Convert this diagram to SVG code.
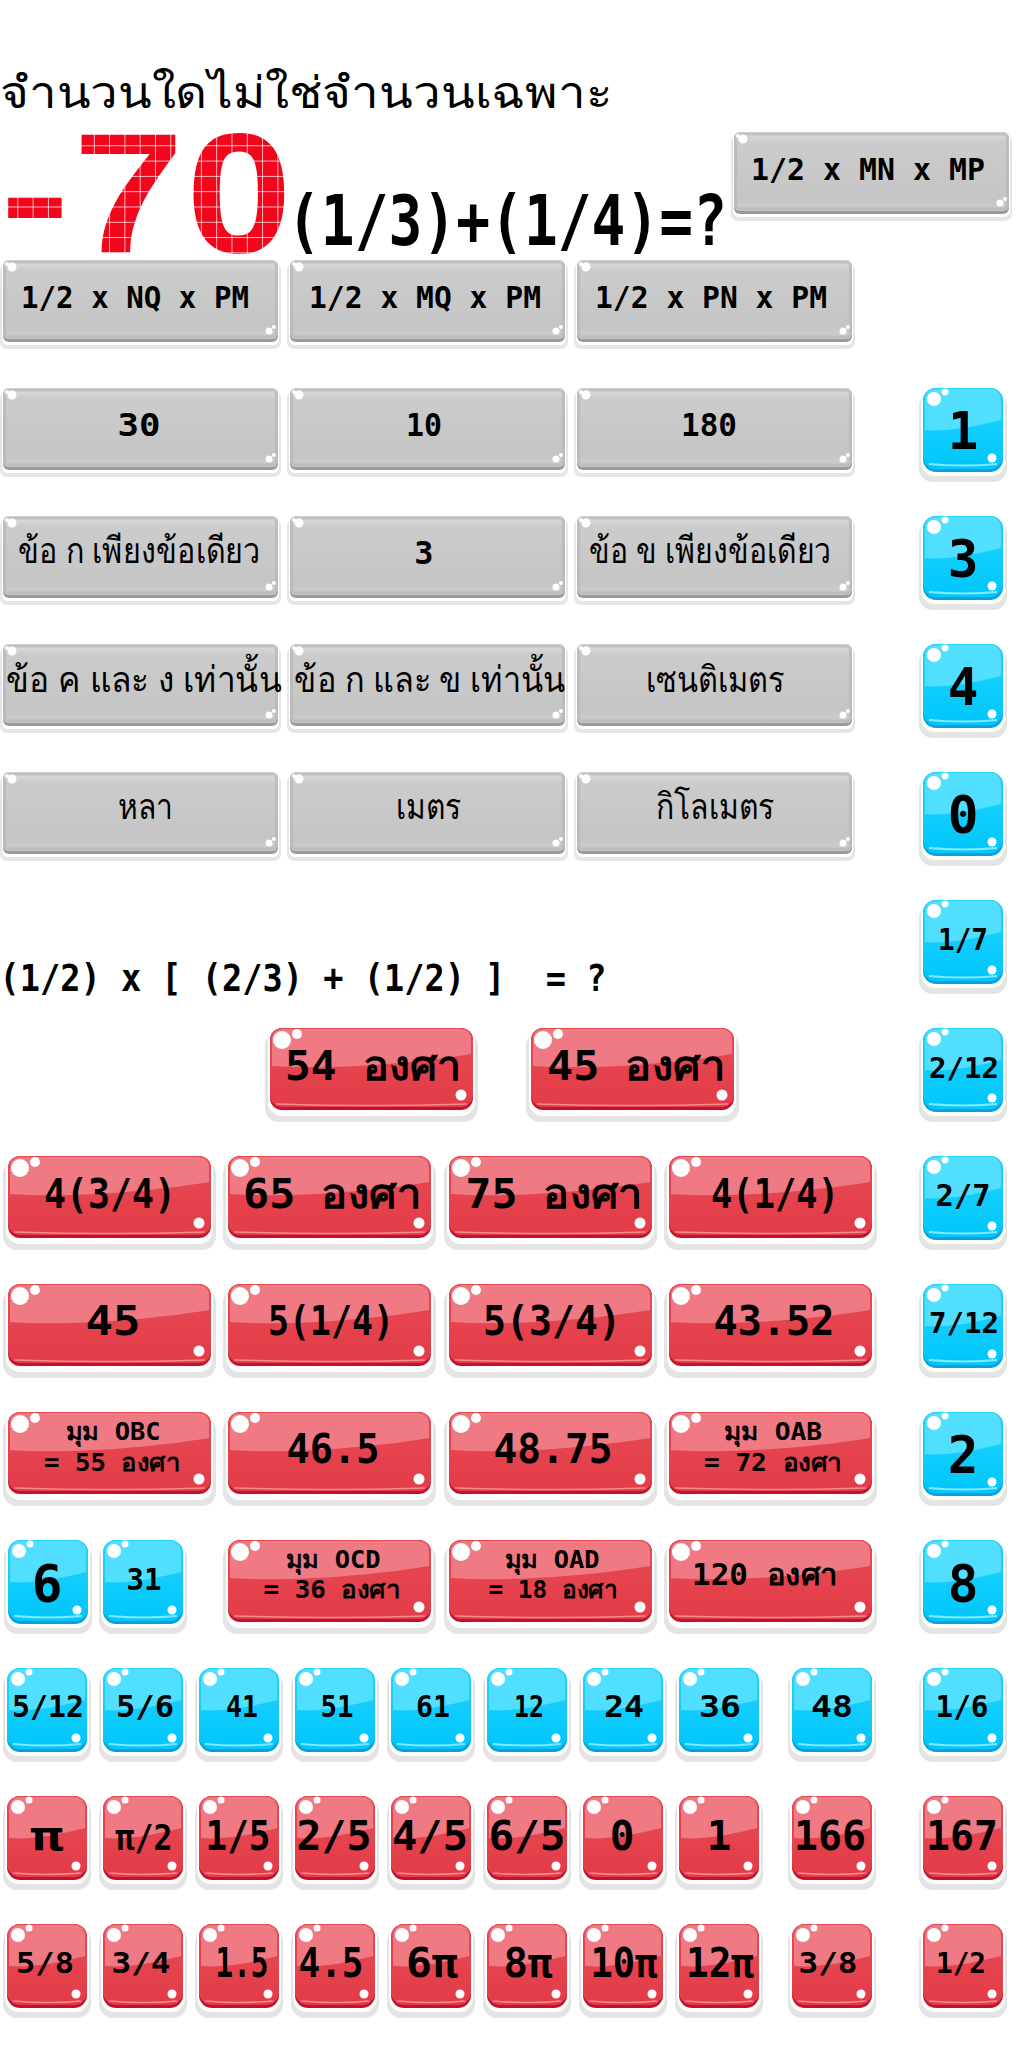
<svg xmlns="http://www.w3.org/2000/svg" xmlns:xlink="http://www.w3.org/1999/xlink" width="1024" height="2048" viewBox="0 0 1024 2048">
<style>
.t{font-family:"DejaVu Sans Mono","Noto Sans","DejaVu Sans",sans-serif;font-weight:bold;fill:#000;text-anchor:middle}
.th{font-family:"Noto Sans","DejaVu Sans","Noto Sans CJK SC",sans-serif;fill:#000;text-anchor:middle}
.px{font-family:"Liberation Sans",sans-serif;font-weight:bold;font-size:170px;fill:url(#pix)}
.big{font-size:51px}
.m{font-size:30px}
.l{font-size:41px}
.s{font-size:29px}
.xs{font-size:24px}
</style>
<defs>
<linearGradient id="gGray" x1="0" y1="0" x2="0" y2="1">
<stop offset="0" stop-color="#e0e0e0"/>
<stop offset="0.12" stop-color="#cccccc"/>
<stop offset="0.85" stop-color="#c5c5c5"/>
<stop offset="1" stop-color="#d0d0d0"/>
</linearGradient>
<linearGradient id="gBlue" x1="0" y1="0" x2="0" y2="1">
<stop offset="0" stop-color="#22d4ff"/>
<stop offset="1" stop-color="#00c6fb"/>
</linearGradient>
<linearGradient id="gRed" x1="0" y1="0" x2="0" y2="1">
<stop offset="0" stop-color="#e84a54"/>
<stop offset="1" stop-color="#e23c47"/>
</linearGradient>
<pattern id="pix" patternUnits="userSpaceOnUse" x="2" y="130" width="15.3" height="15.3">
<rect width="15.3" height="15.3" fill="#f2061b"/>
<path d="M0,0 H15.3 M0,0 V15.3" stroke="#fff" stroke-width="1.4"/>
</pattern>
<g id="gray">
<rect x="-3" y="3" width="281" height="86" rx="7" fill="#e6e6e6"/>
<rect x="-1" y="1" width="277" height="84" rx="6" fill="#fff"/>
<rect x="0" y="0" width="275" height="82" rx="6" fill="#9a9a9a"/>
<rect x="0" y="0" width="275" height="79" rx="6" fill="url(#gGray)"/>
<rect x="1.5" y="2" width="272" height="75" rx="5" fill="none" stroke="#b3b3b3" stroke-opacity="0.6" stroke-width="3"/>
<circle cx="9" cy="7" r="4.5" fill="#fff"/>
<circle cx="4" cy="4" r="2" fill="#fff"/>
<circle cx="266" cy="71" r="3.5" fill="#fff"/>
<circle cx="271" cy="67" r="2" fill="#fff"/>
</g>
<g id="blue">
<rect x="-4" y="4" width="88" height="90" rx="14" fill="#e4e4e4"/>
<rect x="-2" y="-1" width="84" height="89" rx="14" fill="#fff"/>
<rect x="0" y="0" width="80" height="84" rx="13" fill="#0a9fd6"/>
<rect x="0" y="0" width="80" height="81" rx="13" fill="url(#gBlue)"/>
<path d="M2,42 C25,44 55,38 78,32 L78,13 Q78,1 66,1 L14,1 Q2,1 2,13 Z" fill="#52defe"/>
<path d="M6,76 Q40,79 74,76" fill="none" stroke="#7fe9ff" stroke-width="2"/>
<circle cx="11" cy="11" r="7" fill="#fff"/>
<circle cx="22" cy="4" r="3.5" fill="#fff"/>
<circle cx="69" cy="70" r="4.5" fill="#fff"/>
</g>
<g id="redS">
<rect x="-4" y="4" width="88" height="90" rx="14" fill="#e4e4e4"/>
<rect x="-2" y="-1" width="84" height="89" rx="14" fill="#fff"/>
<rect x="0" y="0" width="80" height="84" rx="13" fill="#c5122a"/>
<rect x="0" y="0" width="80" height="81" rx="13" fill="url(#gRed)"/>
<path d="M2,42 C25,44 55,38 78,32 L78,13 Q78,1 66,1 L14,1 Q2,1 2,13 Z" fill="#ef7a83"/>
<path d="M6,77 Q40,80 74,77" fill="none" stroke="#f48a92" stroke-width="1.5"/>
<circle cx="11" cy="11" r="7" fill="#fff"/>
<circle cx="22" cy="4" r="3.5" fill="#fff"/>
<circle cx="69" cy="70" r="4.5" fill="#fff"/>
</g>
<g id="redW">
<rect x="-5" y="4" width="213" height="90" rx="14" fill="#e4e4e4"/>
<rect x="-2" y="-1" width="207" height="89" rx="14" fill="#fff"/>
<rect x="0" y="0" width="203" height="82" rx="12" fill="#c5122a"/>
<rect x="0" y="0" width="203" height="79" rx="12" fill="url(#gRed)"/>
<path d="M2,38 C60,42 140,36 201,26 L201,12 Q201,1 189,1 L14,1 Q2,1 2,12 Z" fill="#ef7a83"/>
<path d="M6,76 Q100,79 197,76" fill="none" stroke="#f48a92" stroke-width="1.5"/>
<circle cx="12" cy="12" r="9" fill="#fff"/>
<circle cx="27" cy="6" r="5" fill="#fff"/>
<circle cx="191" cy="67" r="5.5" fill="#fff"/>
</g>
</defs>
<rect width="1024" height="2048" fill="#fff"/>

<g id="connectors"/>

<g id="title">
<text class="th" x="306" y="108" font-size="44" textLength="613" lengthAdjust="spacingAndGlyphs">จำนวนใดไม่ใช่จำนวนเฉพาะ</text>
</g>
<g id="minus70">
<text class="px" x="0" y="252" textLength="70" lengthAdjust="spacingAndGlyphs">-</text>
<text class="px" x="73" y="252" textLength="111" lengthAdjust="spacingAndGlyphs">7</text>
<text class="px" x="186" y="252" textLength="106" lengthAdjust="spacingAndGlyphs">0</text>
</g>
<g id="eq1">
<text class="t" x="507" y="245" font-size="70" textLength="440" lengthAdjust="spacingAndGlyphs">(1/3)+(1/4)=?</text>
</g>
<g id="eq2">
<text class="t" x="303" y="991" font-size="37" textLength="607" lengthAdjust="spacingAndGlyphs" xml:space="preserve">(1/2) x [ (2/3) + (1/2) ]  = ?</text>
</g>

<g id="g-mnmp"><use href="#gray" x="734" y="132"/><text class="t m" x="868" y="180" textLength="234" lengthAdjust="spacingAndGlyphs">1/2 x MN x MP</text></g>
<g id="g-nq"><use href="#gray" x="3" y="260"/><text class="t m" x="135" y="308" textLength="228" lengthAdjust="spacingAndGlyphs">1/2 x NQ x PM</text></g>
<g id="g-mq"><use href="#gray" x="290" y="260"/><text class="t m" x="425" y="308" textLength="232" lengthAdjust="spacingAndGlyphs">1/2 x MQ x PM</text></g>
<g id="g-pn"><use href="#gray" x="577" y="260"/><text class="t m" x="711" y="308" textLength="232" lengthAdjust="spacingAndGlyphs">1/2 x PN x PM</text></g>

<g id="g-30"><use href="#gray" x="3" y="388"/><text class="t" font-size="32" x="139" y="436" textLength="43" lengthAdjust="spacingAndGlyphs">30</text></g>
<g id="g-10"><use href="#gray" x="290" y="388"/><text class="t" font-size="32" x="424" y="436" textLength="36" lengthAdjust="spacingAndGlyphs">10</text></g>
<g id="g-180"><use href="#gray" x="577" y="388"/><text class="t" font-size="32" x="709" y="436" textLength="56" lengthAdjust="spacingAndGlyphs">180</text></g>

<g id="g-k1"><use href="#gray" x="3" y="516"/><text class="th" font-size="36" x="139" y="563" textLength="242" lengthAdjust="spacingAndGlyphs">ข้อ ก เพียงข้อเดียว</text></g>
<g id="g-3"><use href="#gray" x="290" y="516"/><text class="t" font-size="32" x="424" y="564">3</text></g>
<g id="g-k2"><use href="#gray" x="577" y="516"/><text class="th" font-size="36" x="710" y="563" textLength="242" lengthAdjust="spacingAndGlyphs">ข้อ ข เพียงข้อเดียว</text></g>

<g id="g-k3"><use href="#gray" x="3" y="644"/><text class="th" font-size="36" x="144" y="692" textLength="276" lengthAdjust="spacingAndGlyphs">ข้อ ค และ ง เท่านั้น</text></g>
<g id="g-k4"><use href="#gray" x="290" y="644"/><text class="th" font-size="36" x="430" y="692" textLength="272" lengthAdjust="spacingAndGlyphs">ข้อ ก และ ข เท่านั้น</text></g>
<g id="g-cm"><use href="#gray" x="577" y="644"/><text class="th" font-size="36" x="715" y="692" textLength="138" lengthAdjust="spacingAndGlyphs">เซนติเมตร</text></g>

<g id="g-yd"><use href="#gray" x="3" y="772"/><text class="th" font-size="36" x="145" y="819" textLength="55" lengthAdjust="spacingAndGlyphs">หลา</text></g>
<g id="g-m"><use href="#gray" x="290" y="772"/><text class="th" font-size="36" x="428" y="819" textLength="65" lengthAdjust="spacingAndGlyphs">เมตร</text></g>
<g id="g-km"><use href="#gray" x="577" y="772"/><text class="th" font-size="36" x="715" y="819" textLength="118" lengthAdjust="spacingAndGlyphs">กิโลเมตร</text></g>

<g id="b-1"><use href="#blue" x="923" y="388"/><text class="t big" x="963" y="449">1</text></g>
<g id="b-3"><use href="#blue" x="923" y="516"/><text class="t big" x="963" y="577">3</text></g>
<g id="b-4"><use href="#blue" x="923" y="644"/><text class="t big" x="963" y="705">4</text></g>
<g id="b-0"><use href="#blue" x="923" y="772"/><text class="t big" x="963" y="833">0</text></g>
<g id="b-1-7"><use href="#blue" x="923" y="900"/><text class="t" font-size="31" x="963" y="950" textLength="50" lengthAdjust="spacingAndGlyphs">1/7</text></g>
<g id="b-2-12"><use href="#blue" x="923" y="1028"/><text class="t s" x="964" y="1078" textLength="70" lengthAdjust="spacingAndGlyphs">2/12</text></g>
<g id="b-2-7"><use href="#blue" x="923" y="1156"/><text class="t" font-size="31" x="963" y="1206" textLength="55" lengthAdjust="spacingAndGlyphs">2/7</text></g>
<g id="b-7-12"><use href="#blue" x="923" y="1284"/><text class="t s" x="964" y="1333" textLength="70" lengthAdjust="spacingAndGlyphs">7/12</text></g>
<g id="b-2"><use href="#blue" x="923" y="1412"/><text class="t big" x="963" y="1473">2</text></g>
<g id="b-8"><use href="#blue" x="923" y="1540"/><text class="t big" x="963" y="1602">8</text></g>

<g id="r-54"><use href="#redW" x="270" y="1028"/><text class="t l" x="373" y="1080" textLength="176" lengthAdjust="spacingAndGlyphs">54 องศา</text></g>
<g id="r-45a"><use href="#redW" x="531" y="1028"/><text class="t l" x="636" y="1080" textLength="178" lengthAdjust="spacingAndGlyphs">45 องศา</text></g>

<g id="r-4-3-4"><use href="#redW" x="8" y="1156"/><text class="t l" x="110" y="1208" textLength="132" lengthAdjust="spacingAndGlyphs">4(3/4)</text></g>
<g id="r-65"><use href="#redW" x="228" y="1156"/><text class="t l" x="332" y="1208" textLength="178" lengthAdjust="spacingAndGlyphs">65 องศา</text></g>
<g id="r-75"><use href="#redW" x="449" y="1156"/><text class="t l" x="554" y="1208" textLength="177" lengthAdjust="spacingAndGlyphs">75 องศา</text></g>
<g id="r-4-1-4"><use href="#redW" x="669" y="1156"/><text class="t l" x="775" y="1208" textLength="128" lengthAdjust="spacingAndGlyphs">4(1/4)</text></g>

<g id="r-45"><use href="#redW" x="8" y="1284"/><text class="t l" x="113" y="1335" textLength="55" lengthAdjust="spacingAndGlyphs">45</text></g>
<g id="r-5-1-4"><use href="#redW" x="228" y="1284"/><text class="t l" x="331" y="1335" textLength="126" lengthAdjust="spacingAndGlyphs">5(1/4)</text></g>
<g id="r-5-3-4"><use href="#redW" x="449" y="1284"/><text class="t l" x="552" y="1335" textLength="138" lengthAdjust="spacingAndGlyphs">5(3/4)</text></g>
<g id="r-43-52"><use href="#redW" x="669" y="1284"/><text class="t l" x="774" y="1335" textLength="121" lengthAdjust="spacingAndGlyphs">43.52</text></g>

<g id="r-obc"><use href="#redW" x="8" y="1412"/><text class="t xs" x="113" y="1440" textLength="95" lengthAdjust="spacingAndGlyphs">มุม OBC</text><text class="t" font-size="25" x="112" y="1471" textLength="136" lengthAdjust="spacingAndGlyphs">= 55 องศา</text></g>
<g id="r-46-5"><use href="#redW" x="228" y="1412"/><text class="t l" x="333" y="1463" textLength="93" lengthAdjust="spacingAndGlyphs">46.5</text></g>
<g id="r-48-75"><use href="#redW" x="449" y="1412"/><text class="t l" x="553" y="1463" textLength="119" lengthAdjust="spacingAndGlyphs">48.75</text></g>
<g id="r-oab"><use href="#redW" x="669" y="1412"/><text class="t xs" x="773" y="1440" textLength="98" lengthAdjust="spacingAndGlyphs">มุม OAB</text><text class="t" font-size="25" x="773" y="1471" textLength="138" lengthAdjust="spacingAndGlyphs">= 72 องศา</text></g>

<g id="b-6"><use href="#blue" x="8" y="1540"/><text class="t big" x="47" y="1602">6</text></g>
<g id="b-31"><use href="#blue" x="103" y="1540"/><text class="t m" x="144" y="1590" textLength="35" lengthAdjust="spacingAndGlyphs">31</text></g>
<g id="r-ocd"><use href="#redW" x="228" y="1540"/><text class="t xs" x="333" y="1568" textLength="95" lengthAdjust="spacingAndGlyphs">มุม OCD</text><text class="t" font-size="25" x="332" y="1598" textLength="137" lengthAdjust="spacingAndGlyphs">= 36 องศา</text></g>
<g id="r-oad"><use href="#redW" x="449" y="1540"/><text class="t xs" x="552" y="1568" textLength="95" lengthAdjust="spacingAndGlyphs">มุม OAD</text><text class="t" font-size="25" x="553" y="1598" textLength="129" lengthAdjust="spacingAndGlyphs">= 18 องศา</text></g>
<g id="r-120"><use href="#redW" x="669" y="1540"/><text class="t m" x="765" y="1585" textLength="146" lengthAdjust="spacingAndGlyphs">120 องศา</text></g>

<g id="b-5-12"><use href="#blue" x="7" y="1668"/><text class="t m" x="48" y="1717" textLength="72" lengthAdjust="spacingAndGlyphs">5/12</text></g>
<g id="b-5-6"><use href="#blue" x="103" y="1668"/><text class="t m" x="145" y="1717" textLength="58" lengthAdjust="spacingAndGlyphs">5/6</text></g>
<g id="b-41"><use href="#blue" x="199" y="1668"/><text class="t m" x="242" y="1717" textLength="32" lengthAdjust="spacingAndGlyphs">41</text></g>
<g id="b-51"><use href="#blue" x="295" y="1668"/><text class="t m" x="337" y="1717" textLength="33" lengthAdjust="spacingAndGlyphs">51</text></g>
<g id="b-61"><use href="#blue" x="391" y="1668"/><text class="t m" x="433" y="1717" textLength="34" lengthAdjust="spacingAndGlyphs">61</text></g>
<g id="b-12"><use href="#blue" x="487" y="1668"/><text class="t m" x="529" y="1717" textLength="30" lengthAdjust="spacingAndGlyphs">12</text></g>
<g id="b-24"><use href="#blue" x="583" y="1668"/><text class="t m" x="624" y="1717" textLength="40" lengthAdjust="spacingAndGlyphs">24</text></g>
<g id="b-36"><use href="#blue" x="679" y="1668"/><text class="t m" x="720" y="1717" textLength="42" lengthAdjust="spacingAndGlyphs">36</text></g>
<g id="b-48"><use href="#blue" x="792" y="1668"/><text class="t m" x="832" y="1717" textLength="42" lengthAdjust="spacingAndGlyphs">48</text></g>
<g id="b-1-6"><use href="#blue" x="923" y="1668"/><text class="t m" x="962" y="1717" textLength="53" lengthAdjust="spacingAndGlyphs">1/6</text></g>

<g id="r-pi"><use href="#redS" x="7" y="1796"/><text class="t l" x="47" y="1850" textLength="33" lengthAdjust="spacingAndGlyphs">π</text></g>
<g id="r-pi-2"><use href="#redS" x="103" y="1796"/><text class="t" font-size="35" x="144" y="1850" textLength="57" lengthAdjust="spacingAndGlyphs">π/2</text></g>
<g id="r-1-5"><use href="#redS" x="199" y="1796"/><text class="t l" x="238" y="1850" textLength="65" lengthAdjust="spacingAndGlyphs">1/5</text></g>
<g id="r-2-5"><use href="#redS" x="295" y="1796"/><text class="t l" x="334" y="1850" textLength="75" lengthAdjust="spacingAndGlyphs">2/5</text></g>
<g id="r-4-5"><use href="#redS" x="391" y="1796"/><text class="t l" x="430" y="1850" textLength="76" lengthAdjust="spacingAndGlyphs">4/5</text></g>
<g id="r-6-5"><use href="#redS" x="487" y="1796"/><text class="t l" x="527" y="1850" textLength="77" lengthAdjust="spacingAndGlyphs">6/5</text></g>
<g id="r-0"><use href="#redS" x="583" y="1796"/><text class="t l" x="622" y="1850">0</text></g>
<g id="r-1"><use href="#redS" x="679" y="1796"/><text class="t l" x="719" y="1850">1</text></g>
<g id="r-166"><use href="#redS" x="792" y="1796"/><text class="t l" x="830" y="1850" textLength="72" lengthAdjust="spacingAndGlyphs">166</text></g>
<g id="r-167"><use href="#redS" x="923" y="1796"/><text class="t l" x="962" y="1850" textLength="72" lengthAdjust="spacingAndGlyphs">167</text></g>

<g id="r-5-8"><use href="#redS" x="7" y="1924"/><text class="t s" x="45" y="1973" textLength="58" lengthAdjust="spacingAndGlyphs">5/8</text></g>
<g id="r-3-4"><use href="#redS" x="103" y="1924"/><text class="t s" x="141" y="1973" textLength="59" lengthAdjust="spacingAndGlyphs">3/4</text></g>
<g id="r-1-5b"><use href="#redS" x="199" y="1924"/><text class="t" font-size="40" x="242" y="1977" textLength="53" lengthAdjust="spacingAndGlyphs">1.5</text></g>
<g id="r-4-5b"><use href="#redS" x="295" y="1924"/><text class="t" font-size="40" x="331" y="1977" textLength="65" lengthAdjust="spacingAndGlyphs">4.5</text></g>
<g id="r-6pi"><use href="#redS" x="391" y="1924"/><text class="t" font-size="40" x="432" y="1977" textLength="52" lengthAdjust="spacingAndGlyphs">6π</text></g>
<g id="r-8pi"><use href="#redS" x="487" y="1924"/><text class="t" font-size="40" x="528" y="1977" textLength="49" lengthAdjust="spacingAndGlyphs">8π</text></g>
<g id="r-10pi"><use href="#redS" x="583" y="1924"/><text class="t" font-size="40" x="624" y="1977" textLength="67" lengthAdjust="spacingAndGlyphs">10π</text></g>
<g id="r-12pi"><use href="#redS" x="679" y="1924"/><text class="t" font-size="40" x="720" y="1977" textLength="68" lengthAdjust="spacingAndGlyphs">12π</text></g>
<g id="r-3-8"><use href="#redS" x="792" y="1924"/><text class="t s" x="828" y="1973" textLength="59" lengthAdjust="spacingAndGlyphs">3/8</text></g>
<g id="r-1-2"><use href="#redS" x="923" y="1924"/><text class="t s" x="961" y="1973" textLength="50" lengthAdjust="spacingAndGlyphs">1/2</text></g>
</svg>
